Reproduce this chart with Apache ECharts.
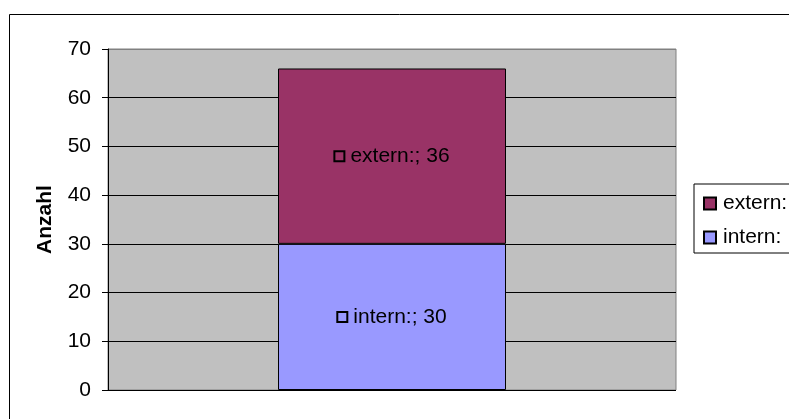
<!DOCTYPE html>
<html>
<head>
<meta charset="utf-8">
<script src="https://cdn.jsdelivr.net/npm/echarts@6/dist/echarts.min.js"></script>
<style>
  html, body { margin: 0; padding: 0; background: #fff; }
  #chart { width: 789px; height: 419px; }
</style>
</head>
<body>
<div id="chart"></div>
<script>
  // values
  const categories = [''];
  const internValues = [30];
  const externValues = [36];
  const legendOrder = ['extern:', 'intern:'];
  const yMin = 0, yMax = 70, yStep = 10;

  const font = "'Liberation Sans', Arial, sans-serif";

  const barLabel = {
    show: true,
    position: 'inside',
    formatter: (p) => '{box|}{txt|' + p.seriesName + '; ' + p.value + '}',
    rich: {
      box: {
        width: 10,
        height: 10,
        borderColor: '#000',
        borderWidth: 1,
        backgroundColor: 'transparent'
      },
      txt: {
        fontFamily: font,
        fontSize: 21,
        color: '#000',
        padding: [0, 0, 0, 6]
      }
    }
  };

  const options = {
    animation: false,
    backgroundColor: '#fff',
    textStyle: { fontFamily: font },
    graphic: [
      {
        type: 'rect',
        shape: { x: 9.5, y: 14.5, width: 800, height: 420 },
        style: { fill: 'none', stroke: '#000', lineWidth: 1 },
        silent: true
      }
    ],
    grid: {
      left: 108,
      top: 49,
      width: 568,
      height: 341,
      show: true,
      backgroundColor: '#C0C0C0',
      borderColor: '#808080',
      borderWidth: 1
    },
    legend: {
      orient: 'vertical',
      left: 694,
      top: 184,
      data: legendOrder,
      icon: 'rect',
      itemWidth: 12,
      itemHeight: 12,
      itemGap: 13,
      padding: [9, 12, 5, 9],
      borderColor: '#000',
      borderWidth: 1,
      backgroundColor: '#fff',
      textStyle: { fontFamily: font, fontSize: 21, color: '#000', padding: [0, 0, 0, 2] }
    },
    xAxis: {
      type: 'category',
      data: categories,
      axisLine: { show: false },
      axisTick: { show: false },
      axisLabel: { show: false }
    },
    yAxis: {
      type: 'value',
      min: yMin,
      max: yMax,
      interval: yStep,
      name: 'Anzahl',
      nameLocation: 'middle',
      nameGap: 52,
      nameTextStyle: { fontFamily: font, fontSize: 21, fontWeight: 'bold', color: '#000' },
      axisLine: { show: true, lineStyle: { color: '#000', width: 1 } },
      axisTick: { show: true, length: 6, lineStyle: { color: '#000' } },
      axisLabel: { fontFamily: font, fontSize: 21, color: '#000', margin: 17 },
      splitLine: {
        show: true,
        lineStyle: {
          color: ['#000', '#000', '#000', '#000', '#000', '#000', '#000', '#808080'],
          width: 1
        }
      }
    },
    series: [
      {
        name: 'intern:',
        type: 'bar',
        stack: 'total',
        barWidth: 228,
        data: internValues,
        itemStyle: { color: '#9999FF', borderColor: '#000', borderWidth: 1 },
        label: barLabel
      },
      {
        name: 'extern:',
        type: 'bar',
        stack: 'total',
        barWidth: 228,
        data: externValues,
        itemStyle: { color: '#993366', borderColor: '#000', borderWidth: 1 },
        label: barLabel
      }
    ]
  };

  const myChart = echarts.init(document.getElementById('chart'));
  myChart.setOption(options);
</script>
</body>
</html>
